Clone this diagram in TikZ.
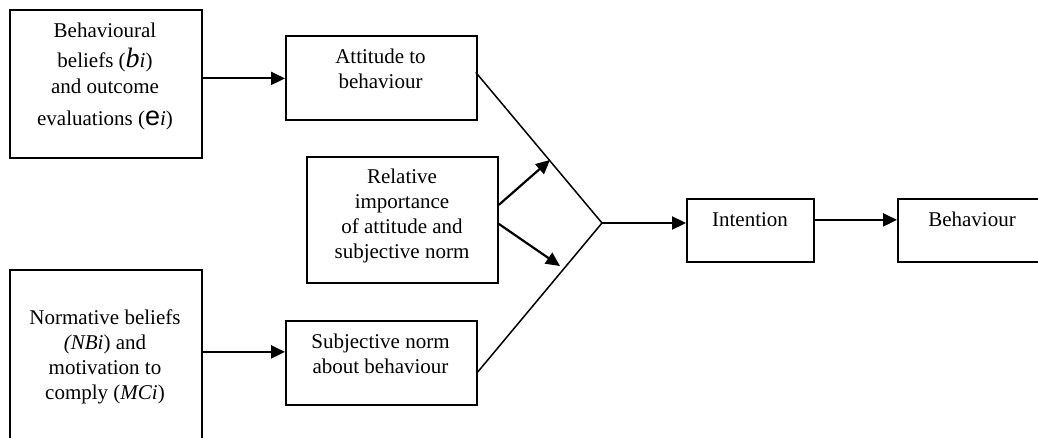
\documentclass[tikz,border=0pt]{standalone}
\usepackage{fontspec}
\setmainfont{Liberation Serif}
\newfontfamily\arialf{Liberation Sans}
\usetikzlibrary{arrows.meta,calc}
\begin{document}
\begin{tikzpicture}[x=1pt,y=-1pt,
  box/.style={draw,line width=1.8pt,inner sep=0pt,anchor=north west},
  txt/.style={inner sep=0pt,align=center,font=\fontsize{21}{25}\selectfont},
  arr/.style={line width=2.2pt,-{Triangle[length=14pt,width=13pt]}},
  diag/.style={line width=1.5pt}]
\useasboundingbox (0,0) rectangle (1038,438);
\clip (0,0) rectangle (1038,438);
% boxes
\node[box,minimum width=192pt,minimum height=148pt] (b1) at (9,9) {};
\node[box,minimum width=191pt,minimum height=84pt] (att) at (285,35.5) {};
\node[box,minimum width=191pt,minimum height=126pt] (rel) at (306,156) {};
\node[box,minimum width=191pt,minimum height=84pt] (sub) at (285,320) {};
\node[box,minimum width=192pt,minimum height=200pt] (nb) at (9,269) {};
\node[box,minimum width=127pt,minimum height=63pt] (int) at (686,198) {};
\node[box,minimum width=141pt,minimum height=63pt] (beh) at (897,198) {};
% texts
\node[txt,anchor=north] (t1) at (105,22.7) {Behavioural\\[5pt]
  beliefs ({\fontsize{28}{25}\selectfont\itshape b}\textit{i})\\[1pt]
  and outcome\\[7pt]
  evaluations ({\arialf\fontsize{27}{25}\selectfont e}\textit{i})};
\node[txt,anchor=north] (t2) at (380.5,48.7) {Attitude to\\behaviour};
\node[txt,anchor=north] (t3) at (402,168.7) {Relative\\importance\\of attitude and\\subjective norm};
\node[txt,anchor=north] (t4) at (105,309.7) {Normative beliefs\\\textit{(NBi}) and\\motivation to\\comply (\textit{MCi})};
\node[txt,anchor=north] (t5) at (380.5,333.7) {Subjective norm\\about behaviour};
\node[txt,anchor=base] (t6) at (750,227) {Intention};
\node[txt,anchor=base] (t7) at (972,227) {Behaviour};
% connectors
\coordinate (m) at (602,223);
\coordinate (a1) at ([yshift=6pt]att.east);
\coordinate (s1) at ([yshift=-9pt]sub.east);
\coordinate (sw) at ([yshift=11pt]sub.west);
\draw[diag] ([xshift=-2pt]a1) -- (m) -- (s1);
\coordinate (up) at (550,160);
\coordinate (lo) at (560,266);
\draw[arr] (b1.east |- att.west) -- (att.west);
\draw[arr] (nb.east |- sw) -- (sw);
\draw[arr] ([yshift=15pt]rel.east) -- (up);
\draw[arr] ([yshift=-4pt]rel.east) -- (lo);
\draw[arr] (m) -- (int.west |- m);
\draw[arr] ([yshift=10.5pt]int.east) -- ([yshift=10.5pt]beh.west);
\end{tikzpicture}
\end{document}
